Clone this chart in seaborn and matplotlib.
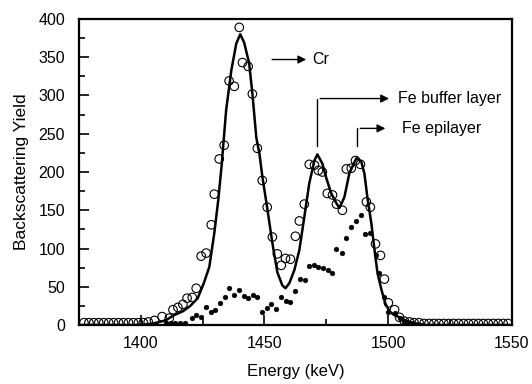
import numpy as np
import pandas as pd
import matplotlib
matplotlib.use('Agg')
import matplotlib.pyplot as plt
import seaborn as sns

# Measured spectrum (open circles)
meas_e = [1377, 1379, 1381, 1383, 1385, 1387, 1389, 1391, 1393, 1395, 1397, 1399, 1401,
          1403, 1405.5, 1408.6, 1411.5, 1413,
          1415, 1417, 1418.7, 1420.8, 1422.4, 1424.4, 1426.4, 1428.5, 1429.7, 1431.7,
          1433.7, 1435.7, 1437.8, 1439.8, 1441.1, 1443.4, 1445.1, 1447.1, 1449.1, 1451.1,
          1453.2, 1455.2, 1456.8, 1458.5, 1460.5, 1462.5, 1464.1, 1466.1, 1468.1, 1470.2,
          1471.8, 1473.4, 1475.4, 1477.5, 1479.1, 1481.5, 1483.1, 1485.1, 1486.8, 1488.8,
          1491.2, 1492.8, 1494.9, 1496.9, 1498.5, 1500.1, 1502.6, 1504.6, 1506.6, 1508.7,
          1510.5, 1512.5, 1514.5, 1516.5, 1518.5, 1520.5, 1522.5, 1524.5, 1526.5, 1528.5,
          1530.5, 1532.5, 1534.5, 1536.5, 1538.5, 1540.5, 1542.5, 1544.5, 1546.5, 1548.5]
meas_y = [3, 3, 3, 3, 3, 3, 3, 3, 3, 3, 3, 3, 3,
          4, 6, 11, 9, 20,
          23, 27, 35, 36, 48, 90, 94, 131, 171, 217,
          235, 319, 312, 389, 343, 338, 302, 231, 189, 154,
          115, 93, 78, 87, 86, 116, 136, 158, 210, 209,
          202, 200, 172, 170, 158, 150, 204, 205, 215, 210,
          161, 154, 106, 91, 60, 29, 20, 10, 5, 4,
          3, 3, 2, 2, 2, 2, 2, 2, 2, 2,
          2, 2, 2, 2, 2, 2, 2, 2, 2, 2]

# Channeling / aligned spectrum (filled dots)
dot_e = [1410, 1412, 1414, 1416, 1418, 1420.8, 1422.4, 1424.4, 1426.4, 1428.5, 1430.1,
         1432.1, 1434.1, 1435.7, 1437.8, 1439.8, 1441.8, 1443.4, 1445.5, 1447.1, 1449.1,
         1451.1, 1452.8, 1454.8, 1456.8, 1458.8, 1460.5, 1462.5, 1464.5, 1466.5, 1468.1,
         1470.2, 1471.8, 1473.8, 1475.8, 1477.5, 1479.1, 1481.5, 1483.1, 1485.1, 1487.1,
         1489.1, 1490.8, 1492.8, 1494.9, 1496.5, 1498.5, 1500.1, 1502.6, 1504.6, 1506.6,
         1508.5, 1510.5]
dot_y = [2, 2, 3, 2, 3, 9, 13, 11, 24, 17, 20,
         29, 36, 48, 39, 46, 38, 35, 39, 37, 17,
         22, 27, 21, 37, 31, 30, 44, 60, 59, 77,
         78, 76, 75, 72, 68, 99, 94, 114, 128, 136,
         144, 119, 120, 91, 68, 37, 17, 16, 9, 4,
         2, 1]

# Simulated spectrum (solid line)
fit_e = [1375, 1400, 1405, 1410, 1413.5, 1417, 1420, 1423, 1425.5, 1427.7, 1429.7, 1431.3,
         1432.6, 1434.5, 1436.6, 1438.6, 1440.2, 1441.8, 1443.8, 1445.1, 1446.7, 1448,
         1449.1, 1451.1, 1453.2, 1455.2, 1457.2, 1458.5, 1460.1, 1462.1, 1464.1, 1466.1,
         1468.1, 1470.2, 1471.4, 1473.4, 1475, 1477, 1479.1, 1480.3, 1482.3, 1484.3,
         1486.4, 1487.2, 1489.1, 1490.4, 1491.6, 1493.2, 1494.5, 1495.7, 1497.3, 1498.9,
         1500.5, 1502, 1504.6, 1507.8, 1511.5, 1515, 1550]
fit_y = [0, 0, 2, 6, 13, 18, 25, 35, 55, 76, 120, 163,
         206, 281, 333, 368, 380, 369, 342, 303, 245, 223,
         195, 153, 107, 69, 52, 48, 55, 72, 98, 141,
         185, 215, 223, 211, 192, 172, 159, 153, 167, 198,
         213, 218, 214, 198, 167, 133, 98, 68, 46, 28,
         18, 14, 10, 5, 2, 0, 0]

sns.set_style('ticks')
plt.rcParams['font.family'] = ['Liberation Sans', 'DejaVu Sans']
plt.rcParams['text.color'] = 'black'
plt.rcParams['axes.labelcolor'] = 'black'

fig = plt.figure(figsize=(5.32, 3.84), dpi=100)
ax = fig.add_axes([0.1485, 0.1536, 0.8135, 0.797])

sns.lineplot(x=fit_e, y=fit_y, ax=ax, color='black', linewidth=1.8, sort=False)
sns.scatterplot(x=meas_e, y=meas_y, ax=ax, marker='o', s=38, facecolor='none',
                edgecolor='black', linewidth=0.8, zorder=3)
sns.scatterplot(x=dot_e, y=dot_y, ax=ax, marker='o', s=12, color='black',
                edgecolor='black', linewidth=0.3, zorder=3)

ax.set_xlim(1375, 1550)
ax.set_ylim(0, 400)
ax.set_xticks([1400, 1450, 1500, 1550])
ax.set_xticks([1425, 1475, 1525], minor=True)
ax.set_yticks(range(0, 401, 50))
ax.set_yticks(range(25, 400, 50), minor=True)
ax.tick_params(which='major', direction='in', length=7, width=1.2, labelsize=11.5,
               color='black', labelcolor='black')
ax.tick_params(which='minor', direction='in', length=4, width=1.2, color='black')
ax.tick_params(axis='y', which='major', pad=10)
ax.tick_params(axis='x', which='major', pad=8)
for side in ['left', 'right', 'top', 'bottom']:
    ax.spines[side].set_visible(True)
    ax.spines[side].set_linewidth(1.6)
    ax.spines[side].set_color('black')

ax.set_xlabel('Energy (keV)', fontsize=12, labelpad=9, color='black')
ax.set_ylabel('Backscattering Yield', fontsize=12.5, labelpad=7, color='black')

arrow = dict(arrowstyle='-|>', color='black', lw=1.0, mutation_scale=12)

# Cr
ax.annotate('', xy=(1468, 347), xytext=(1452, 347), arrowprops=arrow)
ax.text(1469.5, 347, 'Cr', fontsize=11.5, va='center', ha='left', color='black')

# Fe buffer layer
ax.plot([1471.4, 1471.4], [234, 296], color='black', lw=1.0)
ax.annotate('', xy=(1501.5, 296), xytext=(1471.4, 296), arrowprops=arrow)
ax.text(1504, 296, 'Fe buffer layer', fontsize=11.5, va='center', ha='left', color='black')

# Fe epilayer
ax.plot([1487.6, 1487.6], [234, 257], color='black', lw=1.0)
ax.annotate('', xy=(1500, 257), xytext=(1487.6, 257), arrowprops=arrow)
ax.text(1505.5, 257, 'Fe epilayer', fontsize=11.5, va='center', ha='left', color='black')

plt.savefig('out.png', dpi=100)
